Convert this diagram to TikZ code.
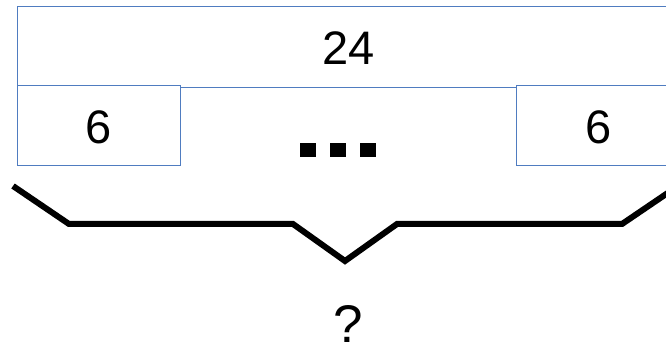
\documentclass[tikz,border=0pt]{standalone}
\usepackage{fontspec}
\setmainfont{Liberation Sans}
\definecolor{boxblue}{HTML}{4F7CC0}
\tikzset{
  numbox/.style={draw=boxblue, line width=1pt, fill=white, rectangle, inner sep=0pt},
  numtext/.style={inner sep=0pt, anchor=base, font=\fontsize{47}{50}\selectfont},
  dotsq/.style={fill=black, rectangle, inner sep=0pt, minimum width=16pt, minimum height=14pt},
  bracket/.style={line width=6pt, line join=miter, line cap=butt}
}
\begin{document}
\begin{tikzpicture}[x=1pt,y=-1pt]
\useasboundingbox (0,0) rectangle (666,347);
\clip (0,0) rectangle (666,347);
\node[numbox, minimum width=663pt, minimum height=81pt] (total) at (348.5,47.5) {};
\node[numtext] (totaltext) at (348.5,65) {24};
\node[numbox, minimum width=163pt, minimum height=80pt] (left) at (98.5,126) {};
\node[numtext] (lefttext) at (99,144) {6};
\node[numbox, minimum width=164pt, minimum height=80pt] (right) at (598,126) {};
\node[numtext] (righttext) at (598.5,143.5) {6};
\node[dotsq] (d1) at (308,150) {};
\node[dotsq] (d2) at (338,150) {};
\node[dotsq] (d3) at (368,150) {};
\draw[bracket] (13,186) -- (69,224) -- (293,224) -- (345,261) -- (397,224) -- (622,224) -- (678,186);
\node[inner sep=0pt, anchor=base, font=\fontsize{53}{58}\selectfont] (q) at (348.5,342) {?};
\end{tikzpicture}
\end{document}
